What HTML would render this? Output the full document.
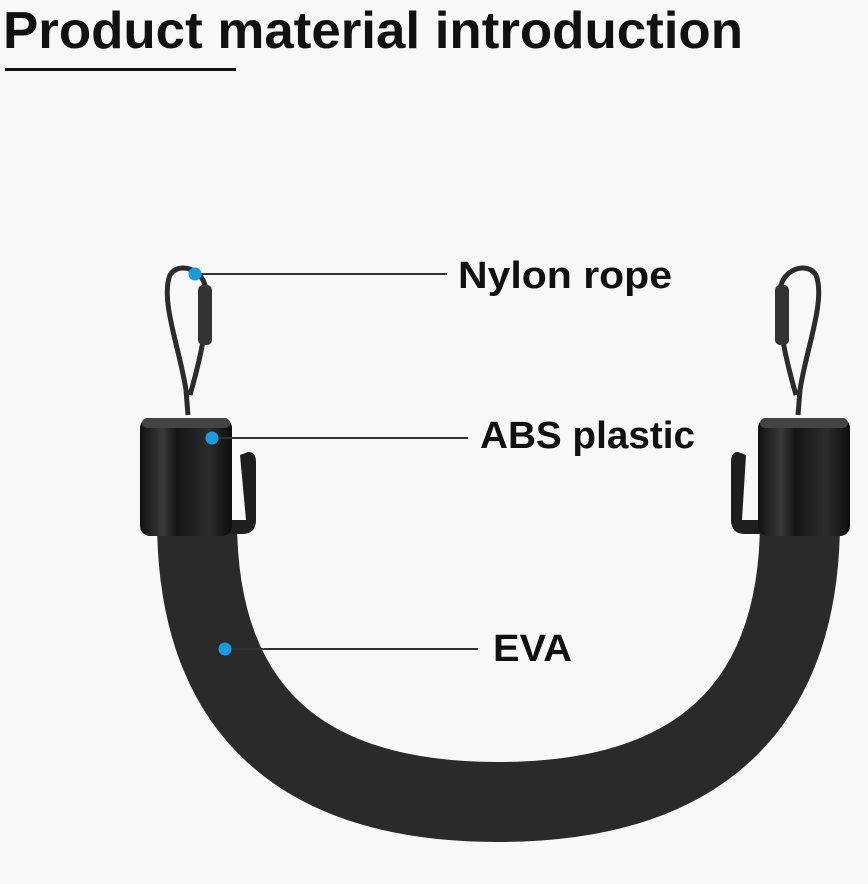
<!DOCTYPE html>
<html><head><style>
html,body{margin:0;padding:0;background:#f8f8f8;}
svg{display:block;}
text{font-family:"Liberation Sans",sans-serif;font-weight:bold;fill:#111;}
</style></head><body>
<svg width="868" height="884" viewBox="0 0 868 884">
<defs>
<linearGradient id="cyl" x1="0" x2="1" y1="0" y2="0">
<stop offset="0" stop-color="#111"/><stop offset="0.25" stop-color="#3a3a3a"/><stop offset="0.4" stop-color="#151515"/><stop offset="0.75" stop-color="#2c2c2c"/><stop offset="1" stop-color="#0c0c0c"/>
</linearGradient>
</defs>
<rect width="868" height="884" fill="#f8f8f8"/>
<text x="3" y="48" font-size="52" textLength="740" lengthAdjust="spacingAndGlyphs">Product material introduction</text>
<rect x="5" y="68" width="231" height="3" fill="#111"/>

<path d="M197,520 C197,735 330,802 498,802 C666,802 800,735 800,520" fill="none" stroke="#2a2a2a" stroke-width="80"/>

<path d="M188,415 L186,390 C180,350 160,300 170,275 C178,262 200,268 205,285 C210,320 200,360 190,395" fill="none" stroke="#2b2b2b" stroke-width="5"/>
<rect x="198" y="285" width="14" height="60" rx="5" fill="#333"/>
<path d="M798,415 L800,390 C806,350 826,300 816,275 C808,262 786,268 781,285 C776,320 786,360 796,395" fill="none" stroke="#2b2b2b" stroke-width="5"/>
<rect x="775" y="285" width="14" height="60" rx="5" fill="#333"/>

<path d="M240,455 L248,452 Q256,452 256,462 L256,520 Q256,534 242,534 L228,534 L228,520 L246,520 Z" fill="#1e1e1e"/>
<rect x="140" y="418" width="92" height="118" rx="10" fill="url(#cyl)"/>
<rect x="142" y="418" width="88" height="10" rx="5" fill="#444"/>
<path d="M746,455 L738,452 Q731,452 731,462 L731,520 Q731,534 745,534 L760,534 L760,520 L742,520 Z" fill="#1e1e1e"/>
<rect x="758" y="418" width="92" height="118" rx="10" fill="url(#cyl)"/>
<rect x="760" y="418" width="88" height="10" rx="5" fill="#444"/>

<line x1="195" y1="274" x2="447" y2="274" stroke="#333" stroke-width="2"/>
<line x1="212" y1="438" x2="468" y2="438" stroke="#333" stroke-width="2"/>
<line x1="225" y1="649" x2="478" y2="649" stroke="#333" stroke-width="2"/>
<circle cx="195" cy="274" r="6.5" fill="#1a9be0"/>
<circle cx="212" cy="438" r="6.5" fill="#1a9be0"/>
<circle cx="225" cy="649" r="6.5" fill="#1a9be0"/>

<text x="458" y="288" font-size="38" textLength="214" lengthAdjust="spacingAndGlyphs">Nylon rope</text>
<text x="480" y="448" font-size="38" textLength="215" lengthAdjust="spacingAndGlyphs">ABS plastic</text>
<text x="493" y="661" font-size="38" textLength="79" lengthAdjust="spacingAndGlyphs">EVA</text>
</svg>
</body></html>
